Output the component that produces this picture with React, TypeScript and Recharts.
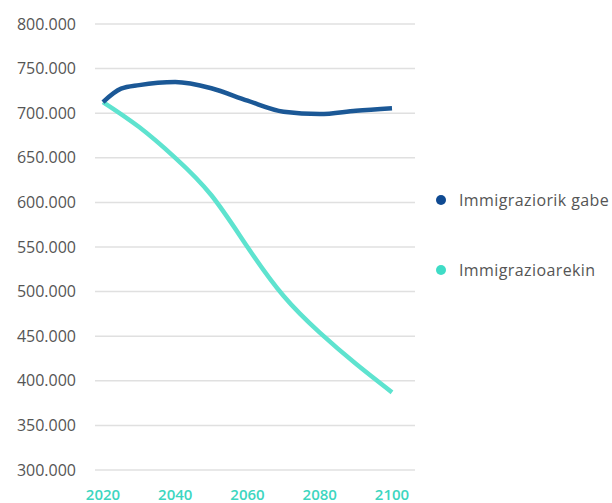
import { LineChart, Line, XAxis, YAxis, CartesianGrid } from 'recharts';

const gabeYears = [2020, 2025, 2030, 2040, 2050, 2060, 2070, 2080, 2090, 2100];
const withoutImmigration = [712500, 727500, 731500, 735000, 728000, 714000, 701700, 699000, 702800, 705600];
const arekinYears = [2020, 2030, 2040, 2050, 2060, 2070, 2080, 2090, 2100];
const withImmigration = [712500, 684500, 650000, 608000, 550000, 495000, 454000, 419000, 387000];
const xTicks = [2020, 2040, 2060, 2080, 2100];
const yTicks = [300000, 350000, 400000, 450000, 500000, 550000, 600000, 650000, 700000, 750000, 800000];

const seriesNames = ['Immigraziorik gabe', 'Immigrazioarekin'];
const darkBlue = '#1b5896';
const darkDot = '#0f4a92';
const teal = '#5ee3cf';
const tealDot = '#3fdcc6';
const font = "'Open Sans', sans-serif";

const gabeData = gabeYears.map((y, i) => ({ year: y, value: withoutImmigration[i] }));
const arekinData = arekinYears.map((y, i) => ({ year: y, value: withImmigration[i] }));

const fmt = (v: number) => v.toLocaleString('en-US').replace(/,/g, '.');

function SideLegend() {
  const items = [
    { name: seriesNames[0], color: darkDot },
    { name: seriesNames[1], color: tealDot },
  ];
  return (
    <div style={{ position: 'absolute', left: 436, top: 190, fontFamily: font }}>
      {items.map((it, i) => (
        <div
          key={it.name}
          style={{
            display: 'flex',
            alignItems: 'center',
            height: 20,
            marginTop: i === 0 ? 0 : 50,
            fontSize: 16,
            letterSpacing: 0.4,
            color: '#555',
            whiteSpace: 'nowrap',
          }}
        >
          <span
            style={{
              width: 10,
              height: 10,
              borderRadius: '50%',
              backgroundColor: it.color,
              marginRight: 13,
              flexShrink: 0,
            }}
          />
          {it.name}
        </div>
      ))}
    </div>
  );
}

export default function App() {
  return (
    <div style={{ position: 'absolute', left: 0, top: 0, width: 612, height: 503, background: '#fff', overflow: 'hidden' }}>
      <LineChart width={612} height={503} margin={{ top: 24, right: 197, left: 0, bottom: 0 }}>
        <CartesianGrid stroke="#e0e0e0" strokeWidth={1.5} vertical={false} />
        <XAxis
          dataKey="year"
          type="number"
          domain={[2020, 2100]}
          ticks={xTicks}
          padding={{ left: 8, right: 23 }}
          axisLine={false}
          tickLine={false}
          tickSize={0}
          tickMargin={19}
          height={33}
          allowDuplicatedCategory={false}
          tick={{ fontSize: 15, fill: '#3dd6bf', fontFamily: font, fontWeight: 600 }}
        />
        <YAxis
          domain={[300000, 800000]}
          ticks={yTicks}
          axisLine={false}
          tickLine={false}
          tickSize={0}
          tickMargin={19}
          width={95}
          tickFormatter={fmt}
          tick={{ fontSize: 16, fill: '#555', fontFamily: font }}
        />
        <Line
          data={arekinData}
          type="natural"
          dataKey="value"
          name={seriesNames[1]}
          stroke={teal}
          strokeWidth={4.5}
          dot={false}
          isAnimationActive={false}
        />
        <Line
          data={gabeData}
          type="monotone"
          dataKey="value"
          name={seriesNames[0]}
          stroke={darkBlue}
          strokeWidth={4.5}
          dot={false}
          isAnimationActive={false}
        />
      </LineChart>
      <SideLegend />
    </div>
  );
}
